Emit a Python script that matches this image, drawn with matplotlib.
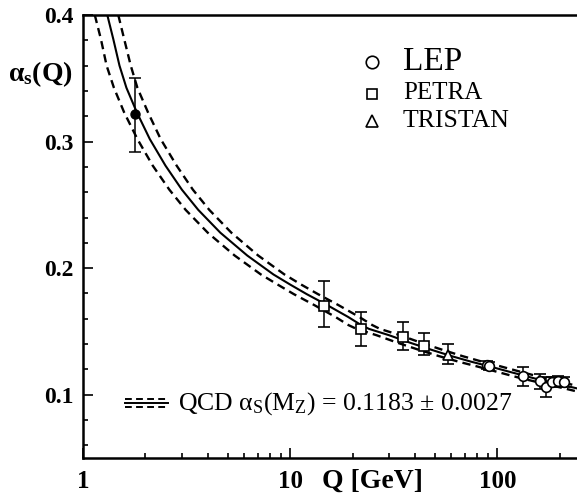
import matplotlib
matplotlib.use("Agg")
import matplotlib.pyplot as plt
from matplotlib.ticker import FixedLocator, NullFormatter, MultipleLocator

plt.rcParams['font.family'] = ['Liberation Serif', 'DejaVu Serif']
plt.rcParams['mathtext.fontset'] = 'custom'
plt.rcParams['mathtext.rm'] = 'Liberation Serif'
plt.rcParams['mathtext.it'] = 'Liberation Serif:italic'
plt.rcParams['mathtext.bf'] = 'Liberation Serif:bold'

# QCD running curves (central, +1 sigma, -1 sigma)
qcd_q = [1.31, 1.40, 1.50, 1.62, 1.82, 2.1, 2.5, 3.0, 3.6, 4.6, 6.2, 8.3, 10, 12,
         15, 19, 22, 24, 30, 38, 48, 60, 75, 91, 115, 150, 190, 242]
qcd_a = [0.400, 0.381, 0.360, 0.3425, 0.323, 0.302, 0.281, 0.262, 0.246, 0.228, 0.210,
         0.195, 0.187, 0.1795, 0.171, 0.1615, 0.155, 0.152, 0.147, 0.141, 0.1355,
         0.1305, 0.126, 0.1225, 0.118, 0.113, 0.109, 0.105]
up_q = [1.48, 1.58, 1.70, 1.83, 2.06, 2.37, 2.83, 3.39, 4.07, 5.2, 7.0, 9.38, 11.3,
        13.6, 17.0, 21.5, 24.9, 27.1, 33.9, 42.9, 54.2, 67.8, 84.8, 103, 130, 170,
        215, 273]
up_a = qcd_a
lo_q = [1.14, 1.22, 1.30, 1.41, 1.58, 1.83, 2.17, 2.61, 3.13, 4.0, 5.39, 7.22, 8.7,
        10.4, 13.0, 16.5, 19.1, 20.9, 26.1, 33.0, 41.7, 52.2, 65.2, 79.1, 100, 130,
        165, 210, 250]
lo_a = qcd_a + [0.102]

# measurements
tau_q = [1.78]
tau_a = [0.322]
tau_lo = [0.030]
tau_hi = [0.028]

petra_q = [14.5, 22, 35, 44]
petra_a = [0.170, 0.152, 0.1457, 0.1386]
petra_lo = [0.0165, 0.0134, 0.010, 0.0076]
petra_hi = [0.020, 0.013, 0.012, 0.010]

tristan_q = [58]
tristan_a = [0.1315]
tristan_lo = [0.0075]
tristan_hi = [0.0085]

lep_q = [89, 91.2, 133, 161, 172, 183, 196, 210]
lep_a = [0.1235, 0.1225, 0.115, 0.111, 0.1063, 0.110, 0.111, 0.110]
lep_lo = [0.003, 0.003, 0.008, 0.0065, 0.0083, 0.004, 0.004, 0.004]
lep_hi = [0.003, 0.003, 0.007, 0.0055, 0.0077, 0.004, 0.004, 0.004]

fig = plt.figure(figsize=(5.77, 4.99), dpi=100)
ax = fig.add_axes([83 / 577, 1 - 458 / 499, 1 - 83 / 577, 443 / 499])

dash = (0, (3.5, 2.2))
ax.plot(qcd_q, qcd_a, color='black', lw=1.5)
ax.plot(up_q, up_a, color='black', lw=1.7, ls=dash)
ax.plot(lo_q, lo_a, color='black', lw=1.7, ls=dash)

eb = dict(ecolor='black', elinewidth=1.1, capsize=4, capthick=1.1, ls='none')
ax.errorbar(tau_q, tau_a, yerr=[tau_lo, tau_hi], fmt='o', ms=6.5, mfc='black',
            mec='black', **eb)
ax.errorbar(petra_q, petra_a, yerr=[petra_lo, petra_hi], fmt='s', ms=7, mfc='white',
            mec='black', mew=1.2, **eb)
ax.errorbar(tristan_q, tristan_a, yerr=[tristan_lo, tristan_hi], fmt='^', ms=7,
            mfc='white', mec='black', mew=1.2, **eb)
ax.errorbar(lep_q, lep_a, yerr=[lep_lo, lep_hi], fmt='o', ms=7, mfc='white',
            mec='black', mew=1.2, **eb)

ax.set_xscale('log')
ax.set_xlim(1, 242)
ax.set_ylim(0.05, 0.4)

ax.xaxis.set_major_locator(FixedLocator([1, 10, 100]))
ax.xaxis.set_minor_locator(FixedLocator([k * d for d in (1, 10, 100) for k in range(2, 10)]))
ax.xaxis.set_minor_formatter(NullFormatter())
ax.set_xticklabels(['1', '10', '100'])
ax.yaxis.set_major_locator(FixedLocator([0.1, 0.2, 0.3, 0.4]))
ax.yaxis.set_minor_locator(MultipleLocator(0.02))
ax.set_yticklabels(['0.1', '0.2', '0.3', '0.4'])

ax.tick_params(which='both', direction='in', width=1.2)
ax.tick_params(which='major', length=7)
ax.tick_params(which='minor', length=3.5)
ax.tick_params(axis='y', pad=7)
ax.tick_params(axis='x', pad=9)
for lab in ax.get_xticklabels():
    lab.set_fontweight('bold')
    lab.set_fontsize(18)
for lab in ax.get_yticklabels():
    lab.set_fontweight('bold')
    lab.set_fontsize(17)

for s in ('left', 'bottom', 'top'):
    ax.spines[s].set_linewidth(1.8)
ax.spines['right'].set_visible(False)

fig.text(40 / 577, 1 - 74 / 499, r'$\mathbf{α_s(Q)}$', fontsize=20,
         ha='center', va='center')
fig.text(372 / 577, 1 - 481 / 499, 'Q [GeV]', fontsize=20, fontweight='bold',
         ha='center', va='center')

# experiment key
def axf(px, py):
    return (px - 83) / 494, (458 - py) / 443

for mk, ms, py, name, fs, by in (('o', 9, 62, 'LEP', 24, 70),
                                 ('s', 7, 94, 'PETRA', 18, 99),
                                 ('^', 8, 121, 'TRISTAN', 18.5, 127)):
    mx, my = axf(372, py)
    ax.plot([mx], [my], marker=mk, ms=ms, mfc='white', mec='black', mew=1.2,
            transform=ax.transAxes, ls='none')
    tx, ty = axf(403, by)
    ax.text(tx, ty, name, fontsize=fs, transform=ax.transAxes, va='baseline')

# QCD key
x0, _ = axf(125, 0)
x1, _ = axf(168, 0)
for py, ls in ((399, dash), (403, '-'), (407, dash)):
    _, yy = axf(0, py)
    ax.plot([x0, x1], [yy, yy], color='black', lw=1.4, ls=ls, transform=ax.transAxes)
tx, ty = axf(178, 404)
ax.text(tx, ty, r'QCD $\mathrm{α_S(M_Z)}$ = 0.1183 ± 0.0027', fontsize=18.5,
        transform=ax.transAxes, va='center')

fig.savefig('out.png', dpi=100)
